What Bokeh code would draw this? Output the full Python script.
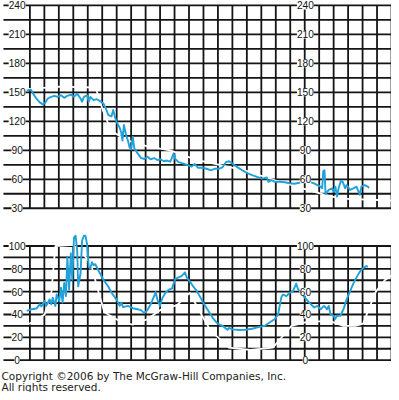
from bokeh.plotting import figure
from bokeh.models import Range1d, ColumnDataSource, LabelSet, Label
from bokeh.core.properties import value
from bokeh.embed import file_html
from bokeh.resources import INLINE

# ---------------- data (x in grid columns, y in chart units) ----------------
top_u = [-0.22,0.07,0.22,0.45,0.68,0.90,1.08,1.24,1.47,1.69,
         1.92,2.15,2.37,2.59,2.83,3.05,3.27,3.50,3.61,3.73,
         3.95,4.07,4.18,4.40,4.63,4.86,5.08,5.24,5.37,5.42,
         5.64,5.76,5.87,5.98,6.21,6.32,6.40,6.50,6.66,6.78,
         6.89,7.00,7.11,7.22,7.45,7.68,7.91,8.13,8.35,8.58,
         8.81,9.03,9.26,9.49,9.71,9.94,10.05,10.28,10.62,10.96,
         11.18,11.40,11.63,11.97,12.20,12.53,12.76,13.10,13.33,13.55,
         13.77,14.00,14.34,14.68,15.02,15.36,15.70,16.04,16.38,16.48,
         16.71,16.94,17.28,17.62,17.95,18.29,18.63,18.97,19.31,19.65,
         19.87,20.10,20.21,20.28,20.37,20.44,20.66,20.89,21.00,21.12,
         21.23,21.34,21.50,21.63,21.80,21.90,22.14,22.36,22.58,22.81,
         22.92,23.15,23.37,23.44]
top_v = [152.0,152.8,148.7,143.6,139.6,137.5,139.6,143.6,145.3,146.4,
         145.3,147.0,144.3,146.4,147.7,145.3,148.7,143.6,140.3,145.3,
         147.0,140.3,145.3,141.9,142.9,140.9,138.5,133.5,128.4,126.7,
         125.1,131.8,125.1,120.0,113.2,108.1,100.0,116.2,105.1,100.0,
         92.9,90.9,104.1,91.9,86.8,82.2,81.0,83.3,80.7,82.0,
         80.0,80.7,78.7,79.4,78.2,86.8,81.0,77.7,76.2,74.3,
         73.1,75.7,71.9,72.1,70.9,69.3,70.9,70.9,72.6,77.7,
         78.7,76.0,72.6,69.3,66.5,64.2,62.5,60.7,61.8,57.4,
         59.1,57.4,57.4,56.9,55.9,55.4,56.4,58.4,57.4,55.7,
         54.0,52.3,50.6,68.5,69.3,44.7,49.0,50.6,47.2,52.3,
         42.2,50.6,58.4,57.4,50.6,54.0,49.0,50.6,52.3,43.9,
         52.3,54.0,52.3,50.6]

bot_u = [-0.22,0.12,0.45,0.68,0.79,1.02,1.13,1.36,1.47,1.58,
         1.76,1.85,2.03,2.15,2.26,2.37,2.49,2.59,2.71,2.83,
         2.93,3.05,3.16,3.27,3.34,3.50,3.61,3.73,3.84,3.95,
         4.07,4.18,4.29,4.40,4.52,4.74,5.08,5.42,5.64,5.98,
         6.21,6.32,6.44,6.78,7.11,7.45,7.68,7.91,8.13,8.35,
         8.58,8.69,8.81,8.99,9.15,9.37,9.60,9.82,10.05,10.28,
         10.50,10.72,10.84,11.06,11.29,11.52,11.74,11.97,12.31,12.65,
         12.99,13.33,13.66,13.77,14.00,14.45,14.91,15.36,15.81,16.26,
         16.60,16.94,17.16,17.28,17.39,17.50,17.73,17.95,18.18,18.41,
         18.52,18.75,18.97,19.31,19.65,19.87,20.10,20.33,20.55,20.66,
         20.78,21.00,21.12,21.23,21.46,21.68,21.90,22.13,22.36,22.58,
         22.81,23.04,23.26,23.37]
bot_v = [43.2,44.6,45.2,48.9,47.0,51.8,47.5,53.2,48.9,54.7,
         47.5,57.5,51.8,63.5,50.4,67.6,56.1,90.1,61.8,93.6,
         70.4,107.6,109.0,96.1,64.6,76.1,104.7,109.0,109.0,101.9,
         81.5,80.4,85.8,83.3,84.1,78.5,70.4,64.4,59.0,53.2,
         47.5,50.4,46.4,47.5,45.5,44.6,43.8,41.2,43.8,48.9,
         55.8,59.7,53.2,47.5,54.1,59.0,61.8,62.7,71.2,72.5,
         73.8,76.8,72.5,68.9,64.6,60.9,56.1,50.6,43.8,36.9,
         31.8,30.0,26.6,28.3,27.0,26.4,26.6,27.5,28.9,30.3,
         33.2,36.1,40.3,48.1,55.4,57.5,56.1,59.0,60.3,67.0,
         62.7,59.0,55.4,50.4,46.1,47.5,44.6,47.5,44.6,47.5,
         40.3,38.9,36.1,38.9,38.9,44.6,53.2,60.3,67.0,72.5,
         77.5,80.7,82.4,81.8]

# faint erased (white) traces
top_white_u = [-2.03,-0.34,2.03,4.54,5.08,5.62,6.78,8.13,9.69,11.52,14.91,16.94,18.97,20.33,21.48,25.0]
top_white_v = [152,153,156,155,130,110,100,94,90,80,69,59,50,44,40,38]
bot_white_u = [-1.83,0.0,1.02,1.49,1.76,2.98,3.53,4.20,4.74,5.15,6.10,7.11,8.13,9.15,10.16,11.04,
               11.86,12.53,13.01,13.75,15.24,16.80,17.34,18.09,19.31,20.80,21.68,22.49,23.04,23.44,23.92,24.53,25.0]
bot_white_v = [32,32,40,60,100,101,95,85,60,42,35,31,36,45,48,59,
               40,25,20,11,9,11,19,30,34,34,30,30,32,45,60,70,74]

# grid / ticks
grid_cols = [0,1,2,3,4,5,6,7,8,9,10,11,12,13,14,15,16,17,18,19,20,21,22,23,24,25]
top_hlines = [30,45,60,75,90,105,120,135,150,165,180,195,210,225,240]
top_ticks = [30,60,90,120,150,180,210,240]
bot_hlines = [0,10,20,30,40,50,60,70,80,90,100]
bot_ticks = [0,20,40,60,80,100]
left_label_col = -0.88
right_label_col = 19.05
line_start_col = -1.83
line_end_col = 25.0

# ---------------- figure ----------------
p = figure(width=391, height=392,
           x_range=Range1d(-2.0325, 25.0), y_range=Range1d(-160.72, 245.07),
           output_backend="svg", toolbar_location=None,
           x_axis_location=None, y_axis_location=None,
           min_border=0, outline_line_color=None, background_fill_color="white")
p.extra_y_ranges = {"bot": Range1d(-28.33, 315.02)}
p.grid.visible = False

GRID = "#151515"
GW = 1.8

# top panel grid
p.segment(x0=[line_start_col]*len(top_hlines), x1=[line_end_col]*len(top_hlines),
          y0=top_hlines, y1=top_hlines, line_color=GRID, line_width=GW)
p.segment(x0=grid_cols, x1=grid_cols, y0=[30]*len(grid_cols), y1=[240]*len(grid_cols),
          line_color=GRID, line_width=GW)
# bottom panel grid
p.segment(x0=[line_start_col]*len(bot_hlines), x1=[line_end_col]*len(bot_hlines),
          y0=bot_hlines, y1=bot_hlines, line_color=GRID, line_width=GW, y_range_name="bot")
p.segment(x0=grid_cols, x1=grid_cols, y0=[0]*len(grid_cols), y1=[100]*len(grid_cols),
          line_color=GRID, line_width=GW, y_range_name="bot")

# erased white traces
p.line(top_white_u, top_white_v, line_color="white", line_width=1.8)
p.line(bot_white_u, bot_white_v, line_color="white", line_width=1.8, y_range_name="bot")

# blue traces
BLUE = "#1FA2DC"
p.line(top_u, top_v, line_color=BLUE, line_width=1.9, line_join="round")
p.line(bot_u, bot_v, line_color=BLUE, line_width=1.9, line_join="round", y_range_name="bot")

# tick labels
def add_labels(ticks, rng):
    txt = [str(t) for t in ticks]
    for col in (left_label_col, right_label_col):
        src = ColumnDataSource(dict(x=[col]*len(ticks), y=ticks, t=txt))
        kw = dict(x="x", y="y", text="t", source=src, text_align="center",
                  text_baseline="middle", text_font=value("Liberation Sans"),
                  text_font_size=value("10.2px"), text_color="#111111",
                  background_fill_color="white")
        if rng:
            kw["y_range_name"] = rng
        p.add_layout(LabelSet(**kw))

add_labels(top_ticks, None)
add_labels(bot_ticks, "bot")

p.add_layout(Label(x=1, y=17.0, x_units="screen", y_units="screen",
                   text="Copyright \u00a92006 by The McGraw-Hill Companies, Inc.",
                   text_font="DejaVu Sans", text_font_size="10.5px", text_color="#222222",
                   text_baseline="alphabetic"))
p.add_layout(Label(x=1, y=6.0, x_units="screen", y_units="screen",
                   text="All rights reserved.",
                   text_font="DejaVu Sans", text_font_size="10.5px", text_color="#222222",
                   text_baseline="alphabetic"))

open("out.html", "w").write(file_html(p, INLINE))
